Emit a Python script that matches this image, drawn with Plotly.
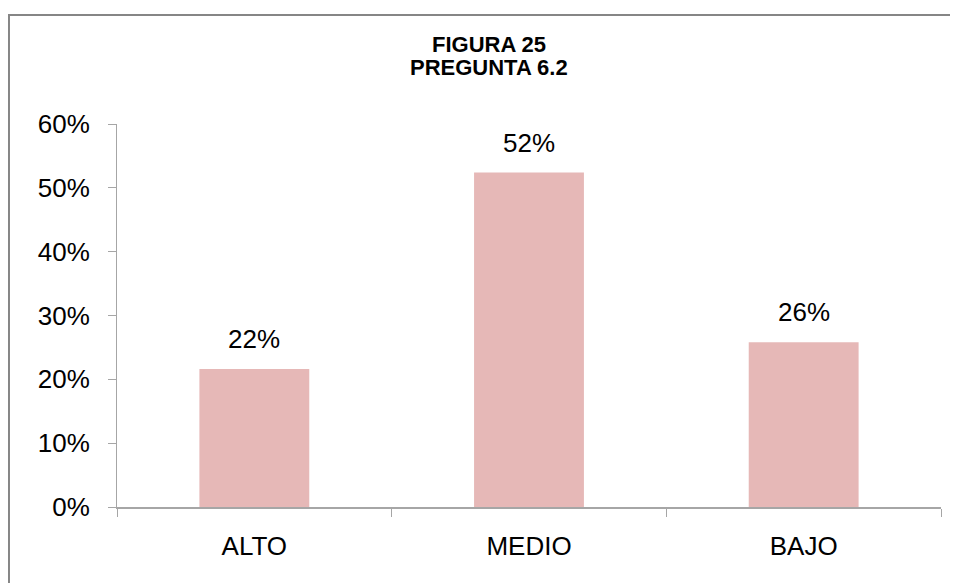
import plotly.graph_objects as go

# data
categories = ["ALTO", "MEDIO", "BAJO"]
shares = [0.216, 0.524, 0.258]
y_ticks = [0, 0.1, 0.2, 0.3, 0.4, 0.5, 0.6]
y_tick_labels = ["0%", "10%", "20%", "30%", "40%", "50%", "60%"]
title_lines = ["FIGURA 25", "PREGUNTA 6.2"]

FONT = "Liberation Sans, Arial, sans-serif"

fig = go.Figure()
fig.add_trace(go.Bar(
    x=categories,
    y=shares,
    marker=dict(color="#E6B8B7", line=dict(width=0)),
    hovertemplate="%{x}: %{y:.0%}<extra></extra>",
))

# value labels sit a bit higher above the bars than plotly's "outside" text
for cat, val in zip(categories, shares):
    fig.add_annotation(
        x=cat, y=val, text=f"{val:.0%}",
        showarrow=False, yanchor="bottom", yshift=13,
        font=dict(family=FONT, size=26, color="#000000"),
    )

# two-line bold title, tighter line spacing than the built-in title
for text, ypos in zip(title_lines, [1.2063, 1.1475]):
    fig.add_annotation(
        xref="paper", yref="paper", x=0.4515, y=ypos,
        text=f"<b>{text}</b>", showarrow=False,
        xanchor="center", yanchor="middle",
        font=dict(family=FONT, size=22, color="#000000"),
    )

# outer frame: only the left and top edges fall inside the picture
fig.add_shape(
    type="path", xref="paper", yref="paper",
    path="M -0.1311,-0.5 L -0.1311,1.2846 L 1.3,1.2846",
    line=dict(color="#868686", width=2),
)

# page body adds an 8px offset, so the figure is 8px smaller than the window
fig.update_layout(
    width=950,
    height=575,
    margin=dict(l=109, r=17, t=116, b=76),
    paper_bgcolor="white",
    plot_bgcolor="white",
    bargap=0.6,
    showlegend=False,
    xaxis=dict(
        showline=True, linecolor="#A6A6A6", linewidth=2,
        ticks="outside", tickson="boundaries", ticklen=8, tickcolor="#A6A6A6",
        tickfont=dict(family=FONT, size=26, color="#000000"),
        ticklabelstandoff=15,
        showgrid=False, zeroline=False,
    ),
    yaxis=dict(
        range=[0, 0.6],
        tickvals=y_ticks, ticktext=y_tick_labels,
        showline=True, linecolor="#A6A6A6", linewidth=1,
        ticks="outside", ticklen=8, tickcolor="#A6A6A6",
        tickfont=dict(family=FONT, size=26, color="#000000"),
        ticklabelstandoff=13,
        showgrid=False, zeroline=False,
    ),
)

fig.write_html("out.html")
